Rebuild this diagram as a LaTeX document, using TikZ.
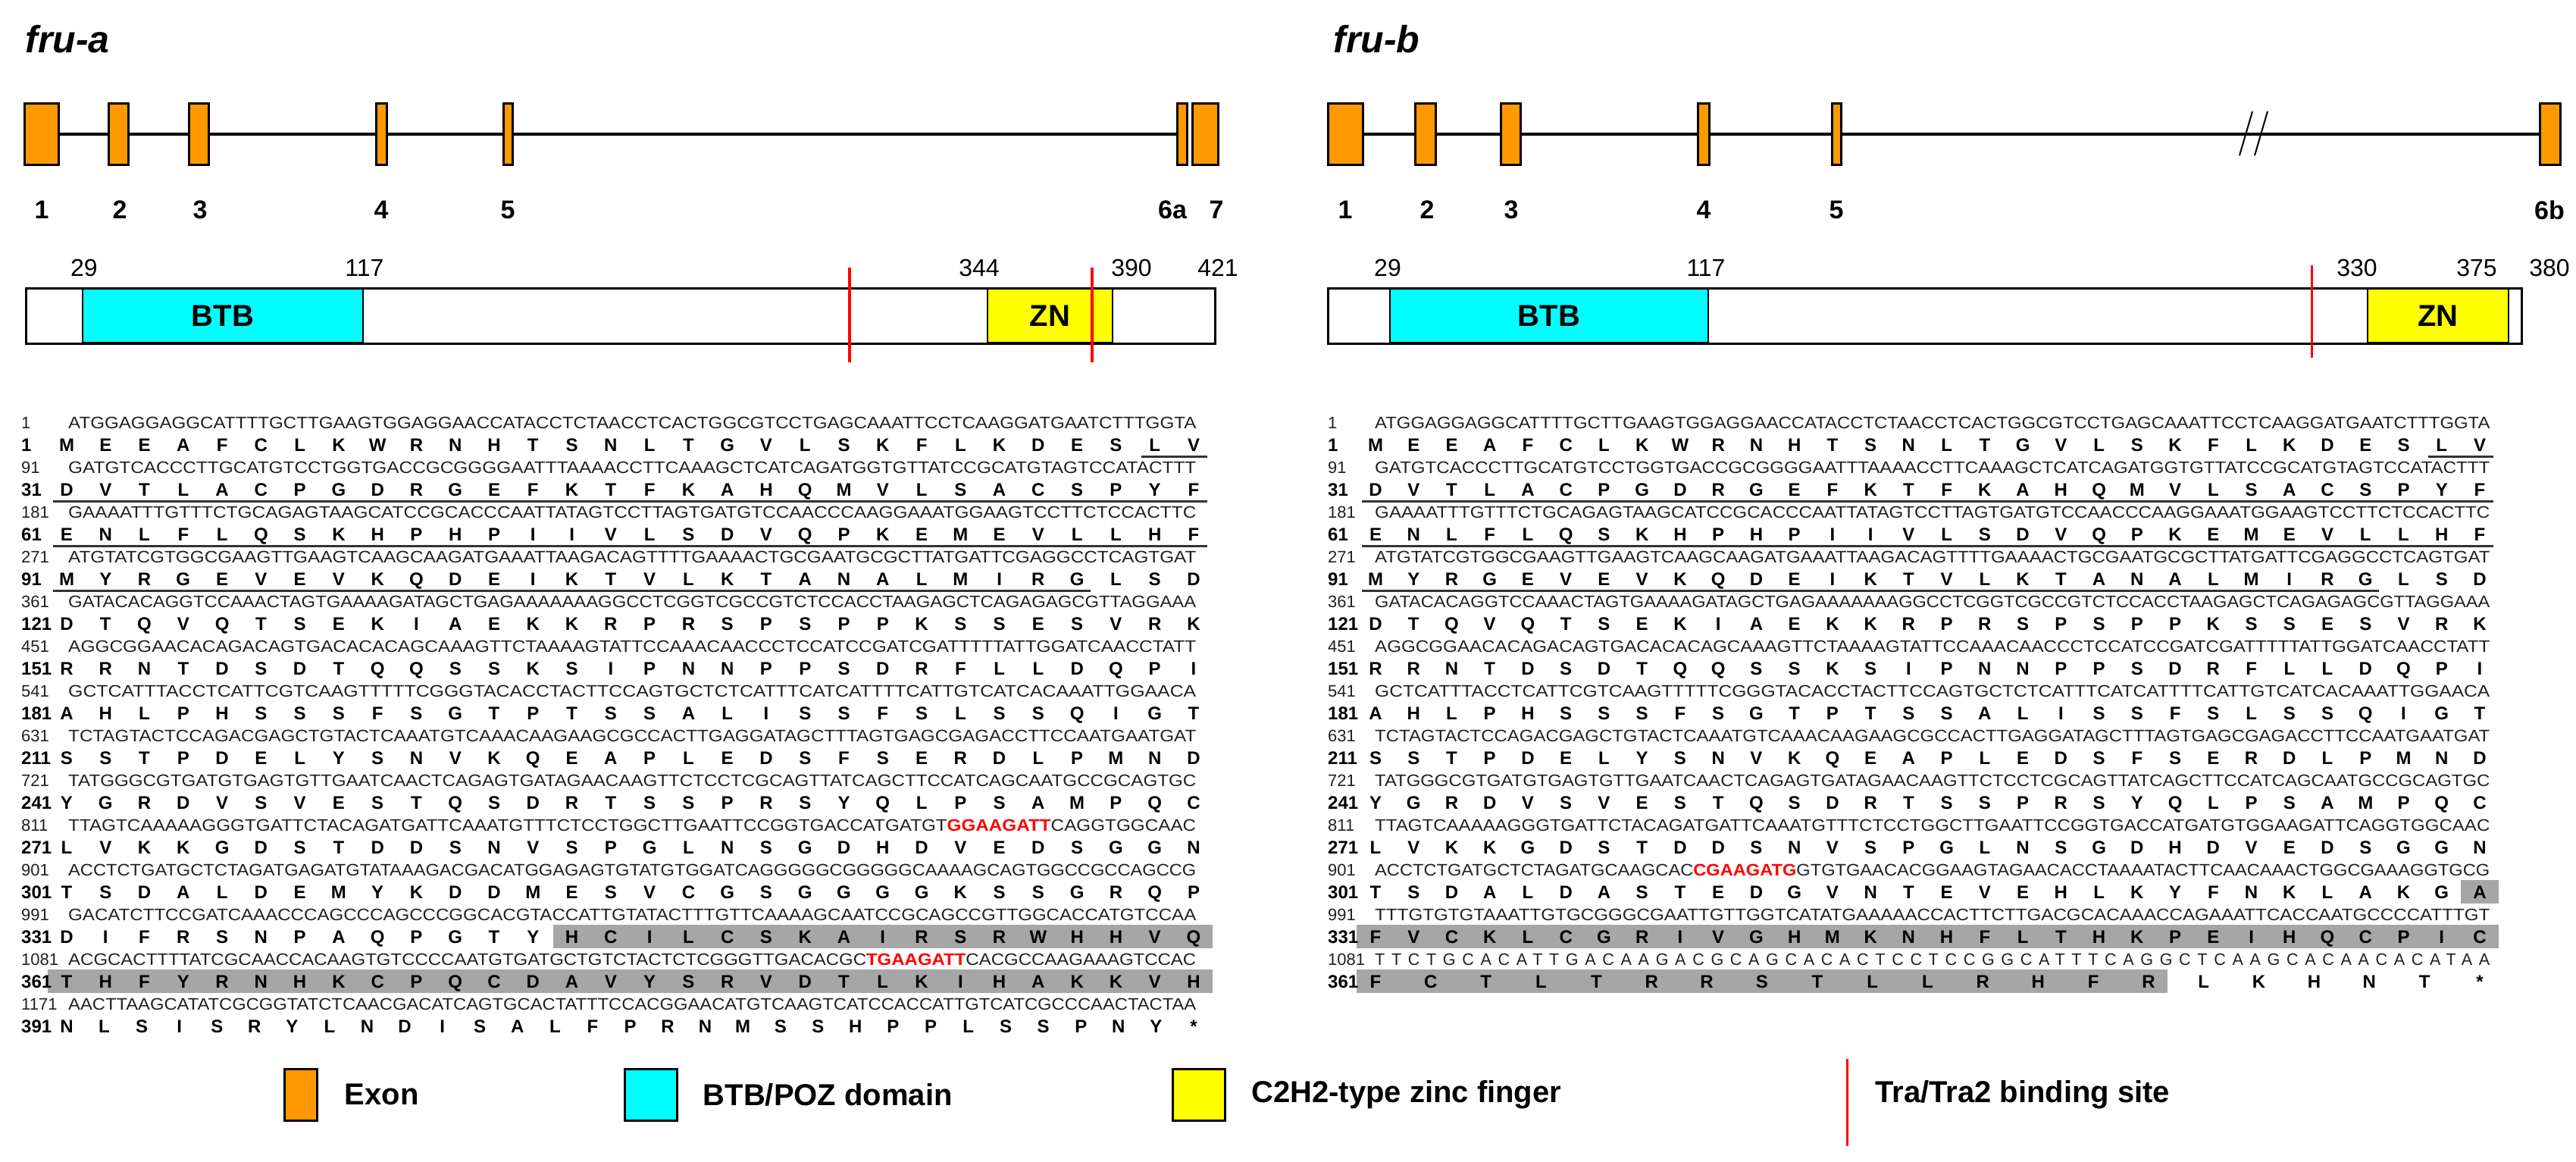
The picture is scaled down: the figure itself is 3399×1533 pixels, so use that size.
\documentclass[tikz,border=0pt]{standalone}
\usepackage{fontspec}
\setmainfont{Liberation Sans}
\usepackage{graphicx}
\usetikzlibrary{positioning,calc,backgrounds}
\definecolor{exonc}{HTML}{FF9900}
\definecolor{btbc}{HTML}{00FFFF}
\definecolor{znc}{HTML}{FFFF00}
\definecolor{hlc}{HTML}{A6A6A6}
\definecolor{ntc}{HTML}{202020}

% sequence rows
\newcommand\ntrow[3]{%
  \node[ntnum, anchor=base west] (\pn-n#1) at (\numx, {\yb+59*#1}) {#2};
  \pgfmathsetmacro\ntw{\ntR-\ntL}
  \node[nt, anchor=base west] (\pn-s#1) at (\ntL, {\yb+59*#1}) {\resizebox{\ntw pt}{\height}{#3}};
}
\newcommand\aarow[3]{%
  \node[aanum, anchor=base west] (\pn-m#1) at (\numx, {\yb+30+59*#1}) {#2};
  \foreach \c [count=\k] in {#3} {\xdef\nlet{\k}}
  \pgfmathsetmacro\st{(\aaR-\aaL)/(\nlet-1)}
  \foreach \c [count=\k] in {#3}
    \node[aa, anchor=base] (\pn-#1-\k) at ({\aaL+(\k-1)*\st}, {\yb+30+59*#1}) {\c};
}
\newcommand\hl[3]{%
  \begin{pgfonlayer}{background}
    \fill[hlc] ($(\pn-#1-#2.base)+(-25,-24)$) rectangle ($(\pn-#1-#3.base)+(25,7)$);
  \end{pgfonlayer}
}
\newcommand\ul[3]{\draw[uline] ($(\pn-#1-#2.base)+(-18,7)$) -- ($(\pn-#1-#3.base)+(18,7)$);}

\newcommand\commonrows{%
  \ntrow{0}{1}{ATGGAGGAGGCATTTTGCTTGAAGTGGAGGAACCATACCTCTAACCTCACTGGCGTCCTGAGCAAATTCCTCAAGGATGAATCTTTGGTA}
  \aarow{0}{1}{M,E,E,A,F,C,L,K,W,R,N,H,T,S,N,L,T,G,V,L,S,K,F,L,K,D,E,S,L,V}
  \ntrow{1}{91}{GATGTCACCCTTGCATGTCCTGGTGACCGCGGGGAATTTAAAACCTTCAAAGCTCATCAGATGGTGTTATCCGCATGTAGTCCATACTTT}
  \aarow{1}{31}{D,V,T,L,A,C,P,G,D,R,G,E,F,K,T,F,K,A,H,Q,M,V,L,S,A,C,S,P,Y,F}
  \ntrow{2}{181}{GAAAATTTGTTTCTGCAGAGTAAGCATCCGCACCCAATTATAGTCCTTAGTGATGTCCAACCCAAGGAAATGGAAGTCCTTCTCCACTTC}
  \aarow{2}{61}{E,N,L,F,L,Q,S,K,H,P,H,P,I,I,V,L,S,D,V,Q,P,K,E,M,E,V,L,L,H,F}
  \ntrow{3}{271}{ATGTATCGTGGCGAAGTTGAAGTCAAGCAAGATGAAATTAAGACAGTTTTGAAAACTGCGAATGCGCTTATGATTCGAGGCCTCAGTGAT}
  \aarow{3}{91}{M,Y,R,G,E,V,E,V,K,Q,D,E,I,K,T,V,L,K,T,A,N,A,L,M,I,R,G,L,S,D}
  \ntrow{4}{361}{GATACACAGGTCCAAACTAGTGAAAAGATAGCTGAGAAAAAAAGGCCTCGGTCGCCGTCTCCACCTAAGAGCTCAGAGAGCGTTAGGAAA}
  \aarow{4}{121}{D,T,Q,V,Q,T,S,E,K,I,A,E,K,K,R,P,R,S,P,S,P,P,K,S,S,E,S,V,R,K}
  \ntrow{5}{451}{AGGCGGAACACAGACAGTGACACACAGCAAAGTTCTAAAAGTATTCCAAACAACCCTCCATCCGATCGATTTTTATTGGATCAACCTATT}
  \aarow{5}{151}{R,R,N,T,D,S,D,T,Q,Q,S,S,K,S,I,P,N,N,P,P,S,D,R,F,L,L,D,Q,P,I}
  \ntrow{6}{541}{GCTCATTTACCTCATTCGTCAAGTTTTTCGGGTACACCTACTTCCAGTGCTCTCATTTCATCATTTTCATTGTCATCACAAATTGGAACA}
  \aarow{6}{181}{A,H,L,P,H,S,S,S,F,S,G,T,P,T,S,S,A,L,I,S,S,F,S,L,S,S,Q,I,G,T}
  \ntrow{7}{631}{TCTAGTACTCCAGACGAGCTGTACTCAAATGTCAAACAAGAAGCGCCACTTGAGGATAGCTTTAGTGAGCGAGACCTTCCAATGAATGAT}
  \aarow{7}{211}{S,S,T,P,D,E,L,Y,S,N,V,K,Q,E,A,P,L,E,D,S,F,S,E,R,D,L,P,M,N,D}
  \ntrow{8}{721}{TATGGGCGTGATGTGAGTGTTGAATCAACTCAGAGTGATAGAACAAGTTCTCCTCGCAGTTATCAGCTTCCATCAGCAATGCCGCAGTGC}
  \aarow{8}{241}{Y,G,R,D,V,S,V,E,S,T,Q,S,D,R,T,S,S,P,R,S,Y,Q,L,P,S,A,M,P,Q,C}
  \aarow{9}{271}{L,V,K,K,G,D,S,T,D,D,S,N,V,S,P,G,L,N,S,G,D,H,D,V,E,D,S,G,G,N}
  \ul{0}{29}{30}
  \ul{1}{1}{30}
  \ul{2}{1}{30}
  \ul{3}{1}{27}
}

\tikzset{
  exon/.style={draw, fill=exonc, line width=3pt, inner sep=0pt, minimum height=81pt},
  intron/.style={line width=3.5pt},
  exlab/.style={font=\fontsize{34}{36}\selectfont\bfseries},
  poslab/.style={font=\fontsize{32}{34}\selectfont},
  prot/.style={draw, line width=3pt, inner sep=0pt, minimum height=73pt},
  dom/.style={draw, line width=1.5pt, inner sep=0pt, minimum height=70pt, font=\fontsize{40}{42}\selectfont\bfseries},
  tra/.style={draw=red, line width=4.5pt},
  title/.style={font=\fontsize{50}{52}\selectfont\bfseries\itshape, anchor=west},
  nt/.style={inner sep=0pt, text=ntc, font=\fontsize{22}{24}\selectfont},
  ntnum/.style={inner sep=0pt, text=ntc, font=\fontsize{22}{24}\selectfont},
  aa/.style={inner sep=0pt, font=\fontsize{24}{26}\selectfont\bfseries},
  aanum/.style={inner sep=0pt, font=\fontsize{24}{26}\selectfont\bfseries},
  uline/.style={line width=3pt, draw=black!80},
  sw/.style={draw, line width=3pt, inner sep=0pt, minimum height=68pt},
  legt/.style={font=\fontsize{40}{42}\selectfont\bfseries, anchor=west, inner sep=0pt}
}

\begin{document}
\begin{tikzpicture}[x=1pt, y=-1pt]
  \useasboundingbox (0,0) rectangle (3399,1533);

  %% fru-a : gene
  \node[title] (atitle) at (30,52) {fru-a};
  \node[exon, minimum width=45pt] (ae1) at (54.5,177) {};
  \node[exon, minimum width=26pt] (ae2) at (156,177) {};
  \node[exon, minimum width=26pt] (ae3) at (262,177) {};
  \node[exon, minimum width=14pt] (ae4) at (503,177) {};
  \node[exon, minimum width=12pt] (ae5) at (670,177) {};
  \node[exon, minimum width=13pt] (ae6) at (1560,177) {};
  \node[exon, minimum width=34pt] (ae7) at (1590,177) {};
  \begin{pgfonlayer}{background}
    \draw[intron] (ae1) -- (ae6);
  \end{pgfonlayer}
  \foreach \e/\t/\x in {1/1/55, 2/2/158, 3/3/264, 4/4/503, 5/5/670, 6/6a/1547, 7/7/1605}
    \node[exlab] (al\e) at (\x,277) {\t};

  %% fru-a : protein
  \node[prot, minimum width=1569pt] (apro) at (818.5,416.5) {};
  \node[dom, fill=btbc, minimum width=370pt] (abtb) at (294,416.5) {BTB};
  \node[dom, fill=znc, minimum width=165pt] (azn) at (1385.5,416.5) {ZN};
  \draw[tra] (1121,353) -- (1121,478);
  \draw[tra] (1441,353) -- (1441,478);
  \foreach \t/\x in {29/111, 117/481, 344/1292, 390/1493, 421/1607}
    \node[poslab] (ap\t) at (\x,353) {\t};

  %% fru-a : sequence
  \def\pn{a}\def\yb{565}
  \def\numx{28}\def\ntL{90}\def\ntR{1578}\def\aaL{88}\def\aaR{1575}
  \commonrows
  \ntrow{9}{811}{TTAGTCAAAAAGGGTGATTCTACAGATGATTCAAATGTTTCTCCTGGCTTGAATTCCGGTGACCATGATGT\textcolor{red}{\bfseries GGAAGATT}CAGGTGGCAAC}
  \ntrow{10}{901}{ACCTCTGATGCTCTAGATGAGATGTATAAAGACGACATGGAGAGTGTATGTGGATCAGGGGGCGGGGGCAAAAGCAGTGGCCGCCAGCCG}
  \aarow{10}{301}{T,S,D,A,L,D,E,M,Y,K,D,D,M,E,S,V,C,G,S,G,G,G,G,K,S,S,G,R,Q,P}
  \ntrow{11}{991}{GACATCTTCCGATCAAACCCAGCCCAGCCCGGCACGTACCATTGTATACTTTGTTCAAAAGCAATCCGCAGCCGTTGGCACCATGTCCAA}
  \aarow{11}{331}{D,I,F,R,S,N,P,A,Q,P,G,T,Y,H,C,I,L,C,S,K,A,I,R,S,R,W,H,H,V,Q}
  \ntrow{12}{1081}{ACGCACTTTTATCGCAACCACAAGTGTCCCCAATGTGATGCTGTCTACTCTCGGGTTGACACGC\textcolor{red}{\bfseries TGAAGATT}CACGCCAAGAAAGTCCAC}
  \aarow{12}{361}{T,H,F,Y,R,N,H,K,C,P,Q,C,D,A,V,Y,S,R,V,D,T,L,K,I,H,A,K,K,V,H}
  \ntrow{13}{1171}{AACTTAAGCATATCGCGGTATCTCAACGACATCAGTGCACTATTTCCACGGAACATGTCAAGTCATCCACCATTGTCATCGCCCAACTACTAA}
  \aarow{13}{391}{N,L,S,I,S,R,Y,L,N,D,I,S,A,L,F,P,R,N,M,S,S,H,P,P,L,S,S,P,N,Y,*}
  \hl{11}{14}{30}
  \hl{12}{1}{30}

  %% fru-b : gene
  \node[title] (btitle) at (1756,52) {fru-b};
  \node[exon, minimum width=46pt] (be1) at (1775,177) {};
  \node[exon, minimum width=27pt] (be2) at (1880.5,177) {};
  \node[exon, minimum width=26pt] (be3) at (1993,177) {};
  \node[exon, minimum width=15pt] (be4) at (2247.5,177) {};
  \node[exon, minimum width=12pt] (be5) at (2423,177) {};
  \node[exon, minimum width=27pt] (be6) at (3364.5,177) {};
  \begin{pgfonlayer}{background}
    \draw[intron] (be1) -- (be6);
  \end{pgfonlayer}
  \draw[line width=2pt] (2955,205) -- (2972,147) (2975,205) -- (2992,147);
  \foreach \e/\t/\x in {1/1/1775, 2/2/1883, 3/3/1994, 4/4/2248, 5/5/2423, 6/6b/3364}
    \node[exlab] (bl\e) at (\x,277) {\t};

  %% fru-b : protein
  \node[prot, minimum width=1575pt] (bpro) at (2539.5,416.5) {};
  \node[dom, fill=btbc, minimum width=420pt] (bbtb) at (2044,416.5) {BTB};
  \node[dom, fill=znc, minimum width=186pt] (bzn) at (3217,416.5) {ZN};
  \draw[tra, line width=3pt] (3050,350) -- (3050,472);
  \foreach \t/\x in {29/1831, 117/2251, 330/3110, 375/3268, 380/3364}
    \node[poslab] (bp\t) at (\x,353) {\t};

  %% fru-b : sequence
  \def\pn{b}
  \def\numx{1752}\def\ntL{1814}\def\ntR{3285}\def\aaL{1815}\def\aaR{3272}
  \commonrows
  \ntrow{9}{811}{TTAGTCAAAAAGGGTGATTCTACAGATGATTCAAATGTTTCTCCTGGCTTGAATTCCGGTGACCATGATGTGGAAGATTCAGGTGGCAAC}
  \ntrow{10}{901}{ACCTCTGATGCTCTAGATGCAAGCAC\textcolor{red}{\bfseries CGAAGATG}GTGTGAACACGGAAGTAGAACACCTAAAATACTTCAACAAACTGGCGAAAGGTGCG}
  \aarow{10}{301}{T,S,D,A,L,D,A,S,T,E,D,G,V,N,T,E,V,E,H,L,K,Y,F,N,K,L,A,K,G,A}
  \ntrow{11}{991}{TTTGTGTGTAAATTGTGCGGGCGAATTGTTGGTCATATGAAAAACCACTTCTTGACGCACAAACCAGAAATTCACCAATGCCCCATTTGT}
  \aarow{11}{331}{F,V,C,K,L,C,G,R,I,V,G,H,M,K,N,H,F,L,T,H,K,P,E,I,H,Q,C,P,I,C}
  \ntrow{12}{1081}{\addfontfeature{LetterSpace=40}TTCTGCACATTGACAAGACGCAGCACACTCCTCCGGCATTTCAGGCTCAAGCACAACACATAA}
  \aarow{12}{361}{F,C,T,L,T,R,R,S,T,L,L,R,H,F,R,L,K,H,N,T,*}
  \hl{10}{30}{30}
  \hl{11}{1}{30}
  \hl{12}{1}{15}

  %% legend
  \node[sw, fill=exonc, minimum width=43pt] (lex) at (396.5,1444) {};
  \node[legt, right=35pt of lex] (lext) {Exon};
  \node[sw, fill=btbc, minimum width=69pt] (lbtb) at (858.5,1444) {};
  \node[legt, right=33pt of lbtb] (lbtbt) {BTB/POZ domain};
  \node[sw, fill=znc, minimum width=69pt] (lzn) at (1582,1444) {};
  \node[legt, right=33pt of lzn] (lznt) {C2H2-type zinc finger};
  \coordinate (ltra1) at (2437,1397);
  \coordinate (ltra2) at (2437,1512);
  \draw[tra, line width=3pt] (ltra1) -- (ltra2);
  \node[legt] (ltrat) at (2474,1444) {Tra/Tra2 binding site};
\end{tikzpicture}
\end{document}
